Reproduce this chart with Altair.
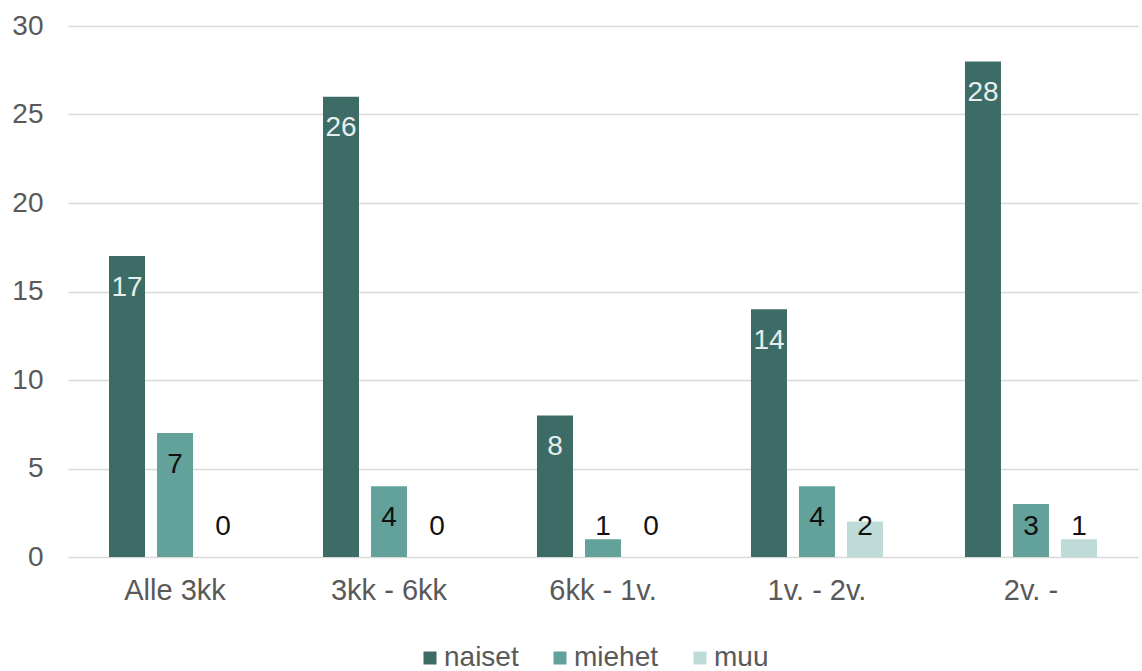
import altair as alt
import pandas as pd

# Duration categories and counts per group
categories = ["Alle 3kk", "3kk - 6kk", "6kk - 1v.", "1v. - 2v.", "2v. -"]
series = ["naiset", "miehet", "muu"]
naiset = [17, 26, 8, 14, 28]
miehet = [7, 4, 1, 4, 3]
muu = [0, 0, 0, 2, 1]
y_ticks = [0, 5, 10, 15, 20, 25, 30]
colors = ["#3d6c66", "#62a29b", "#bfdbd8"]

rows = []
for name, vals in zip(series, [naiset, miehet, muu]):
    for cat, v in zip(categories, vals):
        rows.append({"kesto": cat, "ryhma": name, "lkm": v})
df = pd.DataFrame(rows)

FONT = "Liberation Sans"
GREY = "#595959"

x_enc = alt.X(
    "kesto:N",
    sort=categories,
    title=None,
    scale=alt.Scale(paddingInner=0.383, paddingOuter=0.1916),
    axis=alt.Axis(
        labelAngle=0,
        labelFont=FONT,
        labelFontSize=29,
        labelColor=GREY,
        labelPadding=19,
        ticks=False,
        domain=False,
        grid=False,
    ),
)
xoff_enc = alt.XOffset(
    "ryhma:N", sort=series, scale=alt.Scale(paddingInner=0.25, paddingOuter=0)
)
y_scale = alt.Scale(domain=[0, 30], nice=False)

bars = alt.Chart(df).mark_bar().encode(
    x=x_enc,
    xOffset=xoff_enc,
    y=alt.Y(
        "lkm:Q",
        scale=y_scale,
        title=None,
        axis=alt.Axis(
            values=y_ticks,
            labelFont=FONT,
            labelFontSize=28,
            labelColor=GREY,
            labelPadding=25,
            ticks=False,
            domain=False,
            grid=True,
            gridColor="#d9d9d9",
            gridWidth=1.6,
        ),
    ),
    color=alt.Color(
        "ryhma:N",
        sort=series,
        scale=alt.Scale(domain=series, range=colors),
        legend=alt.Legend(
            title=None,
            orient="none",
            direction="horizontal",
            legendX=348,
            legendY=618,
            padding=0,
            symbolType="square",
            symbolSize=169,
            symbolStrokeWidth=0,
            labelFont=FONT,
            labelFontSize=28,
            labelColor=GREY,
            labelOffset=0,
            columnPadding=27,
        ),
    ),
)

# Value labels sit just inside the bar top, but never lower than a floor above zero
labels = (
    alt.Chart(df)
    .transform_calculate(pos="max(datum.lkm - 1.78, 1.7)")
    .mark_text(font=FONT, fontSize=28, baseline="middle", align="center")
    .encode(
        x=alt.X("kesto:N", sort=categories),
        xOffset=alt.XOffset("ryhma:N", sort=series),
        y=alt.Y("pos:Q", scale=y_scale),
        text=alt.Text("lkm:Q"),
        color=alt.condition(
            alt.datum.ryhma == "naiset", alt.value("#e6efed"), alt.value("#111111")
        ),
    )
)

chart = (
    alt.layer(bars, labels)
    .properties(
        width=1070,
        height=531,
        autosize=alt.AutoSizeParams(type="none"),
        padding={"left": 68, "top": 26, "right": 4, "bottom": 114},
    )
    .configure(background="white")
    .configure_view(stroke=None, strokeWidth=0)
)

chart.save("out.html", embed_options={"renderer": "svg", "actions": False})
